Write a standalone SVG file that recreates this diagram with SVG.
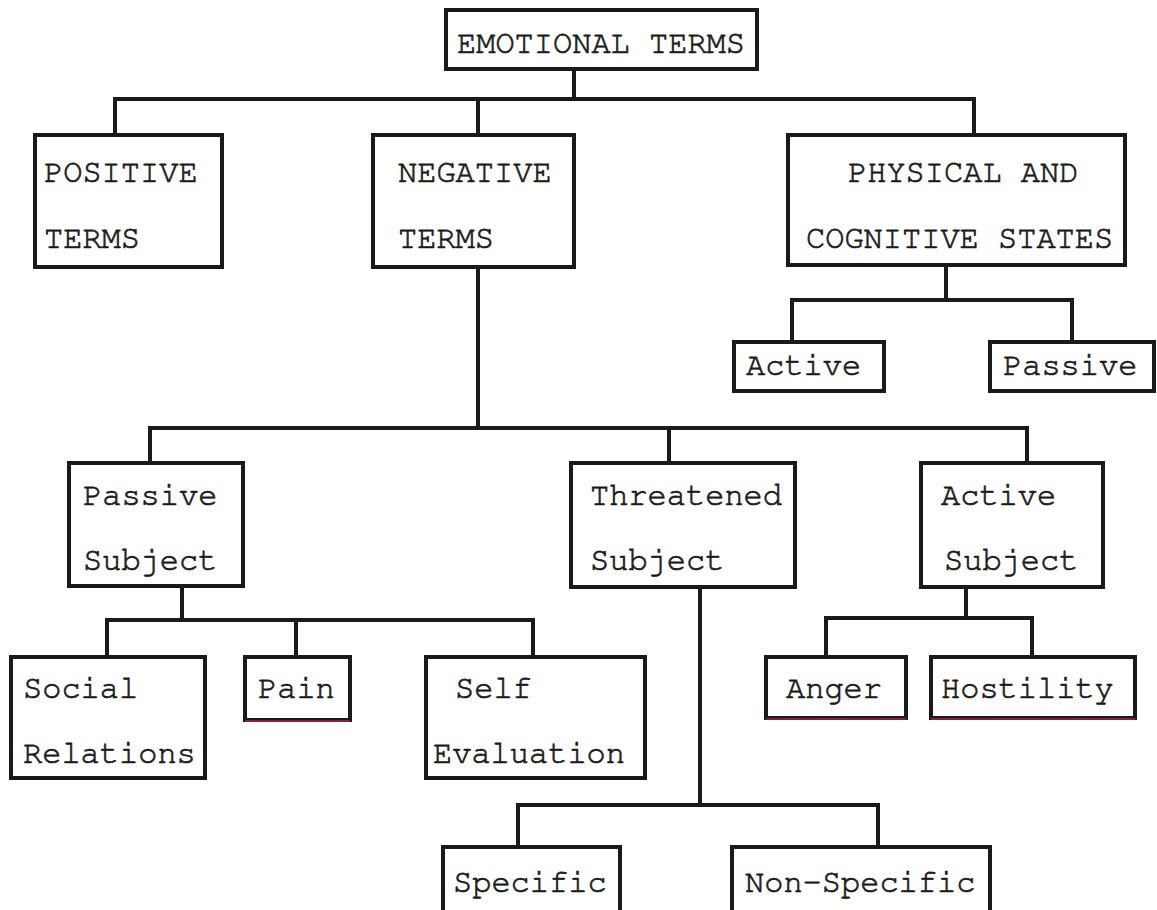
<svg xmlns="http://www.w3.org/2000/svg" width="1157" height="910" viewBox="0 0 1157 910">
  <style>
    .box { fill: #ffffff; stroke: #1a1a1a; stroke-width: 4; }
    .lbl { font-family: "Nimbus Mono PS", "FreeMono", "Courier New", Courier, "Liberation Mono", monospace; font-size: 32px; fill: #1a1a1a; stroke: #1a1a1a; stroke-width: 0.7; }
    .wire { fill: none; stroke: #1a1a1a; stroke-width: 4; stroke-linecap: square; }
    .tint { stroke: #8a1c3c; stroke-width: 2; }
  </style>
  <rect width="1157" height="910" fill="#ffffff"/>

  <!-- connectors -->
  <g id="connectors" class="wire">
    <path d="M574 69 V99 M115 99 H974 M115 99 V135 M478 99 V135 M974 99 V135"/>
    <path d="M946 265 V300 M792 300 H1072 M792 300 V342 M1072 300 V342"/>
    <path d="M478 267 V428 M150 428 H1027 M150 428 V463 M669 428 V463 M1027 428 V463"/>
    <path d="M182 586 V620 M107 620 H533 M107 620 V657 M296 620 V657 M533 620 V657"/>
    <path d="M966 587 V618 M826 618 H1032 M826 618 V657 M1032 618 V657"/>
    <path d="M700 587 V805 M518 805 H878 M518 805 V847 M878 805 V847"/>
  </g>

  <g id="emotional-terms">
    <rect class="box" x="446" y="10" width="311" height="59"/>
    <text class="lbl" x="457" y="53">EMOTIONAL TERMS</text>
  </g>

  <g id="positive-terms">
    <rect class="box" x="35" y="135" width="187" height="132"/>
    <text class="lbl" x="44" y="182">POSITIVE</text>
    <text class="lbl" x="44" y="248">TERMS</text>
  </g>

  <g id="negative-terms">
    <rect class="box" x="373" y="135" width="201" height="132"/>
    <text class="lbl" x="398" y="182">NEGATIVE</text>
    <text class="lbl" x="398" y="248">TERMS</text>
  </g>

  <g id="physical-cognitive">
    <rect class="box" x="788" y="135" width="337" height="130"/>
    <text class="lbl" x="848" y="182">PHYSICAL AND</text>
    <text class="lbl" x="806" y="248">COGNITIVE STATES</text>
  </g>

  <g id="pc-active">
    <rect class="box" x="734" y="342" width="150" height="49"/>
    <text class="lbl" x="746" y="375">Active</text>
  </g>

  <g id="pc-passive">
    <rect class="box" x="990" y="342" width="164" height="49"/>
    <text class="lbl" x="1003" y="375">Passive</text>
  </g>

  <g id="passive-subject">
    <rect class="box" x="69" y="463" width="174" height="123"/>
    <text class="lbl" x="83" y="505">Passive</text>
    <text class="lbl" x="83" y="570">Subject</text>
  </g>

  <g id="threatened-subject">
    <rect class="box" x="571" y="463" width="224" height="124"/>
    <text class="lbl" x="590" y="505">Threatened</text>
    <text class="lbl" x="590" y="570">Subject</text>
  </g>

  <g id="active-subject">
    <rect class="box" x="921" y="463" width="182" height="124"/>
    <text class="lbl" x="941" y="505">Active</text>
    <text class="lbl" x="944" y="570">Subject</text>
  </g>

  <g id="social-relations">
    <rect class="box" x="11" y="657" width="194" height="121"/>
    <text class="lbl" x="23" y="698">Social</text>
    <text class="lbl" x="23" y="763">Relations</text>
  </g>

  <g id="pain">
    <rect class="box" x="245" y="657" width="105" height="63"/>
    <line class="tint" x1="245" y1="721" x2="350" y2="721"/>
    <text class="lbl" x="258" y="698">Pain</text>
  </g>

  <g id="self-evaluation">
    <rect class="box" x="426" y="657" width="219" height="121"/>
    <text class="lbl" x="455" y="698">Self</text>
    <text class="lbl" x="433" y="763">Evaluation</text>
  </g>

  <g id="anger">
    <rect class="box" x="766" y="657" width="140" height="61"/>
    <line class="tint" x1="766" y1="719" x2="906" y2="719"/>
    <text class="lbl" x="786" y="698">Anger</text>
  </g>

  <g id="hostility">
    <rect class="box" x="931" y="657" width="204" height="61"/>
    <line class="tint" x1="931" y1="719" x2="1135" y2="719"/>
    <text class="lbl" x="941" y="698">Hostility</text>
  </g>

  <g id="specific">
    <rect class="box" x="443" y="847" width="177" height="80"/>
    <text class="lbl" x="453" y="892">Specific</text>
  </g>

  <g id="non-specific">
    <rect class="box" x="732" y="847" width="258" height="80"/>
    <text class="lbl" x="745" y="892">Non-Specific</text>
  </g>
</svg>
